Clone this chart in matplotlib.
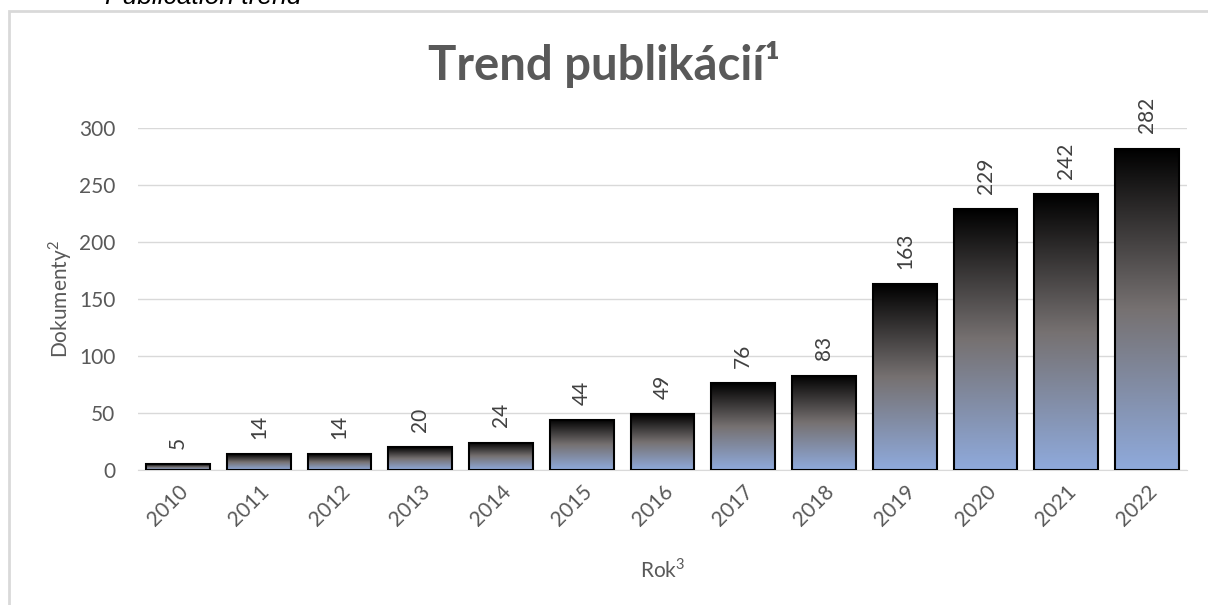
import numpy as np
import matplotlib.pyplot as plt
from matplotlib.colors import LinearSegmentedColormap
from matplotlib.patches import Rectangle

#=========================================DATA========================================
years = ['2010', '2011', '2012', '2013', '2014', '2015', '2016',
         '2017', '2018', '2019', '2020', '2021', '2022']
docs = [5, 14, 14, 20, 24, 44, 49, 76, 83, 163, 229, 242, 282]

plt.rcParams['font.family'] = ['Lato', 'DejaVu Sans']
plt.rcParams['mathtext.fontset'] = 'custom'
plt.rcParams['mathtext.rm'] = 'Lato'
txt = '#595959'

#=========================================FIGURE======================================
fig = plt.figure(figsize=(12.08, 6.05), dpi=100)
ax = fig.add_axes([0.114, 0.223, 0.869, 0.565])

# outer chart frame (cut off on right/bottom)
fig.patches.append(Rectangle((9/1208, -0.1), 1.2, 1 - 11/605 + 0.1,
                             transform=fig.transFigure, fill=False,
                             edgecolor='#d9d9d9', linewidth=2))
fig.text(105/1208, 1 - 4/605, 'Publication trend', fontsize=19, style='italic',
         family='Liberation Sans', color='black', va='baseline')

# gradient: blue at bottom, gray in middle, black at top
cmap = LinearSegmentedColormap.from_list('g', ['#8FAADC', '#767171', '#000000'])
grad = np.linspace(0, 1, 256).reshape(-1, 1)
x = np.arange(len(years))
w = 0.79
for i, v in enumerate(docs):
    ax.imshow(grad, cmap=cmap, origin='lower', aspect='auto',
              extent=(x[i] - w/2, x[i] + w/2, 0, v), zorder=2)
bars = ax.bar(x, docs, width=w, facecolor='none', edgecolor='black',
              linewidth=1.5, zorder=3)

for i, v in enumerate(docs):
    ax.annotate(str(v), (x[i], v), xytext=(0, 11), textcoords='offset points',
                rotation=90, ha='center', va='bottom', fontsize=15,
                color='#404040', zorder=4)

ax.set_xlim(-0.5, len(years) - 0.5)
ax.set_ylim(0, 300)
ax.set_yticks(range(0, 301, 50))
ax.set_xticks(x)
ax.set_xticklabels(years, rotation=45, ha='right', rotation_mode='anchor')
ax.tick_params(axis='both', length=0, labelsize=15, labelcolor=txt)
ax.tick_params(axis='x', pad=8)
ax.tick_params(axis='y', pad=16)
ax.grid(axis='y', color='#d9d9d9', linewidth=1, zorder=0)
ax.set_axisbelow(True)
for s in ['top', 'right', 'left']:
    ax.spines[s].set_visible(False)
ax.spines['bottom'].set_color('#d9d9d9')

ax.set_xlabel(r'Rok$^\mathrm{3}$', fontsize=15, color=txt, labelpad=20)
ax.set_ylabel(r'Dokumenty$^\mathrm{2}$', fontsize=15, color=txt, labelpad=4)
fig.text(0.5, 1 - 64/605, 'Trend publikácií¹', ha='center', va='center',
         fontsize=34, fontweight='bold', color=txt)

fig.savefig('out.png', dpi=100)
